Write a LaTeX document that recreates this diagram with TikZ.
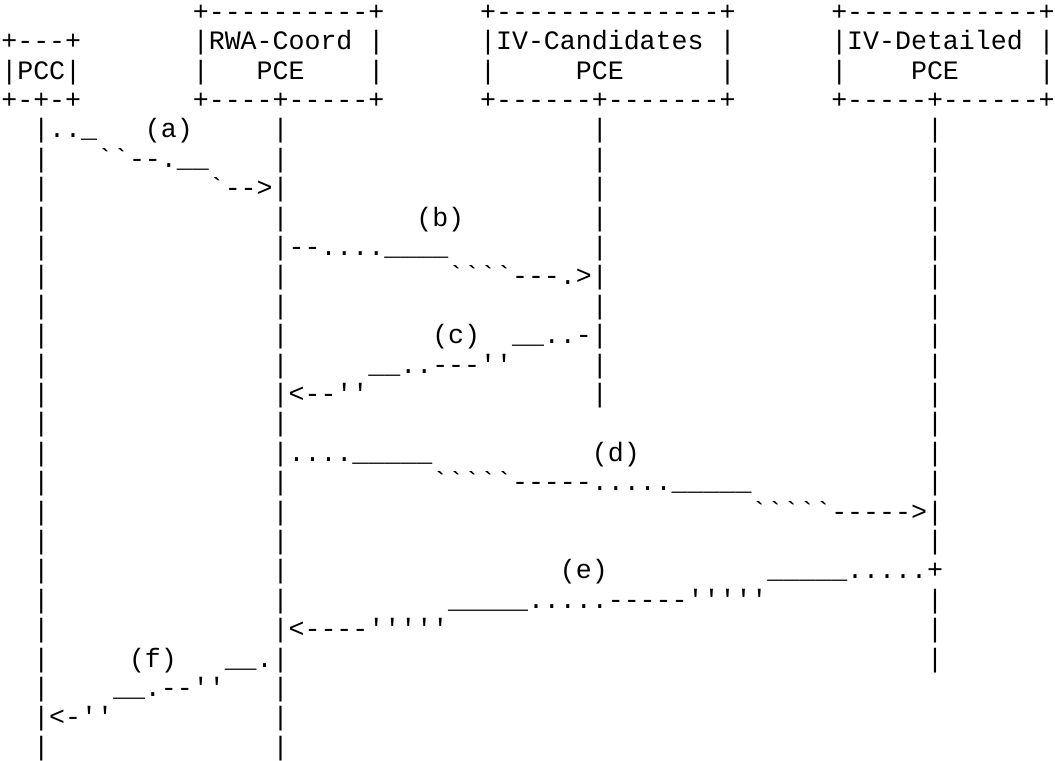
\documentclass[tikz,border=0pt]{standalone}
\usepackage{fontspec}
\setmonofont{Liberation Mono}
\usepackage{tikz}

\newcommand{\lifeline}[4]{% name, column, first row, last row
	\foreach \r in {#3,...,#4}
		\node[txt] (#1-\r) at (#2,\r) {|};
}

\begin{document}
\begin{tikzpicture}[x=11.97pt, y=-22.05pt,
		txt/.style={anchor=base west, inner sep=0pt, outer sep=0pt,
			font=\ttfamily\fontsize{19.95pt}{22pt}\selectfont}]
	\useasboundingbox (-1pt,15.2pt) rectangle (790.25pt,-554.8pt);
	% Boxes
	\node[txt] (rwa-top) at (12,0) {+----------+};
	\node[txt] (ivc-top) at (30,0) {+--------------+};
	\node[txt] (ivd-top) at (52,0) {+------------+};
	\node[txt] (pcc-top) at (0,1) {+---+};
	\node[txt] (rwa-name) at (12,1) {|RWA-Coord |};
	\node[txt] (ivc-name) at (30,1) {|IV-Candidates |};
	\node[txt] (ivd-name) at (52,1) {|IV-Detailed |};
	\node[txt] (pcc-name) at (0,2) {|PCC|};
	\node[txt] (rwa-l) at (12,2) {|};
	\node[txt] (rwa-pce) at (16,2) {PCE};
	\node[txt] (rwa-r) at (23,2) {|};
	\node[txt] (ivc-l) at (30,2) {|};
	\node[txt] (ivc-pce) at (36,2) {PCE};
	\node[txt] (ivc-r) at (45,2) {|};
	\node[txt] (ivd-l) at (52,2) {|};
	\node[txt] (ivd-pce) at (57,2) {PCE};
	\node[txt] (ivd-r) at (65,2) {|};
	\node[txt] (pcc-bot) at (0,3) {+-+-+};
	\node[txt] (rwa-bot) at (12,3) {+----+-----+};
	\node[txt] (ivc-bot) at (30,3) {+------+-------+};
	\node[txt] (ivd-bot) at (52,3) {+-----+------+};
	% Lifelines
	\lifeline{pcc}{2}{4}{25}
	\lifeline{rwa}{17}{4}{25}
	\lifeline{ivc}{37}{4}{13}
	\lifeline{ivd}{58}{4}{18}
	\lifeline{ivd}{58}{20}{22}
	% (a) PCC to RWA-Coord
	\node[txt] (a1) at (3,4) {..\_};
	\node[txt] (la) at (9,4) {(a)};
	\node[txt] (a2) at (6,5) {``--.\_\_};
	\node[txt] (a3) at (13,6) {`-->};
	% (b) RWA-Coord to IV-Candidates
	\node[txt] (lb) at (26,7) {(b)};
	\node[txt] (b1) at (18,8) {--....\_\_\_\_};
	\node[txt] (b2) at (28,9) {````---.>};
	% (c) IV-Candidates back
	\node[txt] (lc) at (27,11) {(c)};
	\node[txt] (c1) at (32,11) {\_\_..-};
	\node[txt] (c2) at (23,12) {\_\_..---''};
	\node[txt] (c3) at (18,13) {<--''};
	% (d) RWA-Coord to IV-Detailed
	\node[txt] (d1) at (18,15) {....\_\_\_\_\_};
	\node[txt] (ld) at (37,15) {(d)};
	\node[txt] (d2) at (27,16) {`````-----.....\_\_\_\_\_};
	\node[txt] (d3) at (47,17) {`````----->};
	% (e) IV-Detailed back
	\node[txt] (le) at (35,19) {(e)};
	\node[txt] (e1) at (48,19) {\_\_\_\_\_.....+};
	\node[txt] (e2) at (28,20) {\_\_\_\_\_.....-----'''''};
	\node[txt] (e3) at (18,21) {<----'''''};
	% (f) reply to PCC
	\node[txt] (lf) at (8,22) {(f)};
	\node[txt] (f1) at (14,22) {\_\_.};
	\node[txt] (f2) at (7,23) {\_\_.--''};
	\node[txt] (f3) at (3,24) {<-''};
\end{tikzpicture}
\end{document}
